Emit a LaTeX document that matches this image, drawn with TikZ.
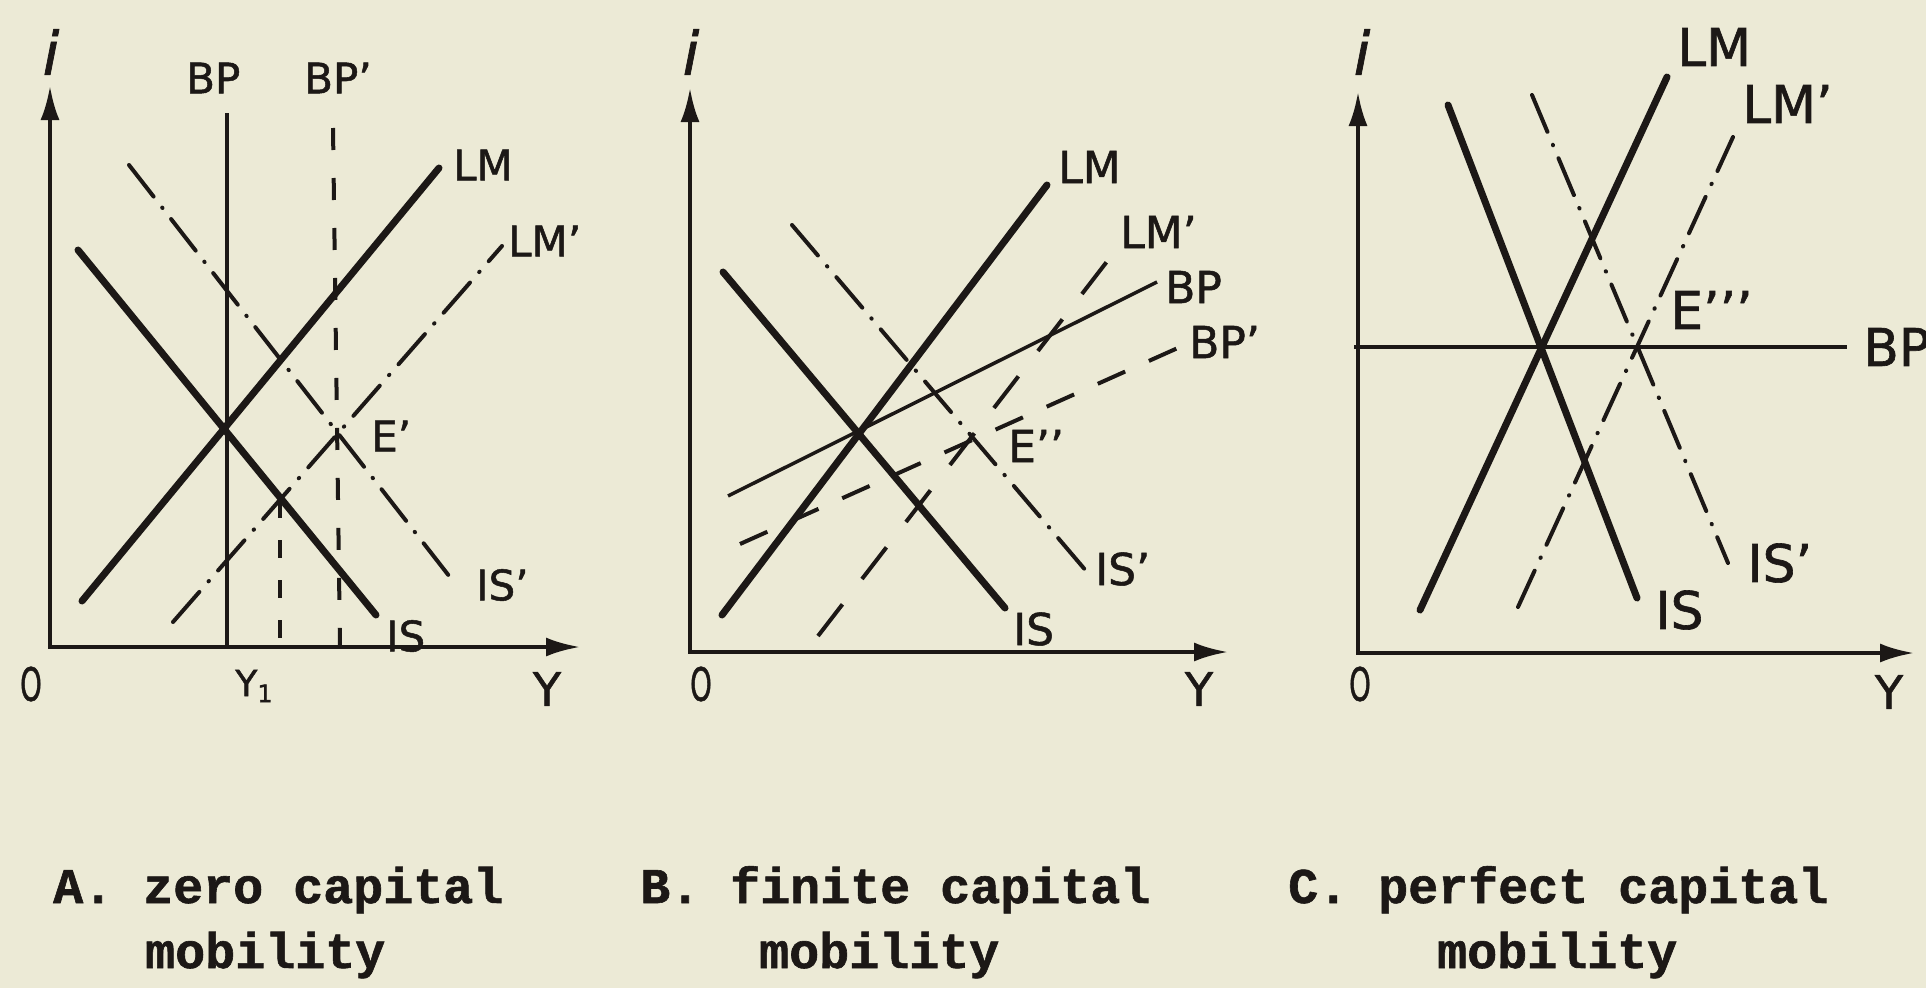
\documentclass[tikz,border=0pt]{standalone}
\usepackage{fontspec}
\setmainfont{DejaVu Sans}[FakeBold=1.2]
\newfontfamily\capfont{Liberation Mono}[BoldFeatures={FakeBold=1.2}]
\usetikzlibrary{arrows.meta}
\definecolor{paper}{RGB}{236,234,214}
\definecolor{ink}{RGB}{28,24,22}
\tikzset{
  axisline/.style={line width=4pt, draw=ink, {Latex[length=34pt,width=19pt]}-{Latex[length=34pt,width=19pt]}},
  thickline/.style={line width=7pt, draw=ink, line cap=round},
  thinline/.style={line width=3.5pt, draw=ink},
  dashdot/.style={line width=4pt, draw=ink, line cap=round, dash pattern=on 40pt off 14pt on 0.5pt off 14pt},
  dashline/.style={line width=4pt, draw=ink, dash pattern=on 22pt off 28pt},
  longdash/.style={line width=4pt, draw=ink, dash pattern=on 40pt off 32pt},
  lblA/.style={font=\fontsize{42}{42}\selectfont, text=ink, inner sep=0pt, anchor=west},
  lblB/.style={font=\fontsize{44}{44}\selectfont, text=ink, inner sep=0pt, anchor=west},
  lblC/.style={font=\fontsize{52}{52}\selectfont, text=ink, inner sep=0pt, anchor=west},
  axlbl/.style={font=\fontsize{46}{46}\selectfont, text=ink, inner sep=0pt},
  ilbl/.style={font=\itshape\fontsize{60}{60}\selectfont, text=ink, inner sep=0pt},
  captxt/.style={font=\capfont\bfseries\fontsize{50}{50}\selectfont, text=ink, anchor=base west, inner sep=0pt},
}
\begin{document}
\begin{tikzpicture}[x=1pt,y=-1pt]
\useasboundingbox (0,0) rectangle (1926,988);
\fill[paper] (0,0) rectangle (1926,988);

% ---------------- Panel A ----------------
\coordinate (Ao) at (50,647);
\coordinate (Ayt) at (50,86);
\coordinate (Axr) at (580,647);
\draw[axisline] (Ayt) -- (Ao) -- (Axr);
\coordinate (Abpt) at (227,113); \coordinate (Abpb) at (227,647);
\draw[thinline] (Abpt) -- (Abpb);
\coordinate (Abpqt) at (333,128); \coordinate (Abpqb) at (340,647);
\draw[dashline] (Abpqt) -- (Abpqb);
\coordinate (Alm1) at (82,601); \coordinate (Alm2) at (439,168);
\draw[thickline] (Alm1) -- (Alm2);
\coordinate (Ais1) at (78,250); \coordinate (Ais2) at (376,615);
\draw[thickline] (Ais1) -- (Ais2);
\coordinate (Aisq1) at (129,165); \coordinate (Aisq2) at (453,581);
\draw[dashdot] (Aisq1) -- (Aisq2);
\coordinate (Almq1) at (173,622); \coordinate (Almq2) at (502,246);
\draw[dashdot] (Almq1) -- (Almq2);
\coordinate (Ay1t) at (280,500); \coordinate (Ay1b) at (280,647);
\draw[line width=3.5pt, draw=ink, dash pattern=on 18pt off 22pt] (Ay1t) -- (Ay1b);
\node[lblA] (AlBP) at (186,78) {BP};
\node[lblA] (AlBPq) at (304,78) {BP’};
\node[lblA] (AlLM) at (453,165) {LM};
\node[lblA] (AlLMq) at (508,241) {LM’};
\node[lblA] (AlE) at (371,436) {E’};
\node[lblA] (AlISq) at (476,585) {IS’};
\node[lblA] (AlIS) at (386,636) {IS};
\node[axlbl] (AlO) at (31,684) {\scalebox{0.6}[1]{O}};
\node[axlbl] (AlY1) at (254,686) {\fontsize{36}{36}\selectfont Y\raisebox{-6pt}{\fontsize{24}{24}\selectfont 1}};
\node[axlbl] (AlY) at (547,689) {Y};
\node[ilbl] (Ali) at (51,52) {i};

% ---------------- Panel B ----------------
\coordinate (Bo) at (690,652);
\coordinate (Byt) at (690,88);
\coordinate (Bxr) at (1228,652);
\draw[axisline] (Byt) -- (Bo) -- (Bxr);
\coordinate (Blm1) at (722,615); \coordinate (Blm2) at (1047,185);
\draw[thickline] (Blm1) -- (Blm2);
\coordinate (Bis1) at (723,272); \coordinate (Bis2) at (1005,608);
\draw[thickline] (Bis1) -- (Bis2);
\coordinate (Bbp1) at (728,496); \coordinate (Bbp2) at (1157,282);
\draw[thinline] (Bbp1) -- (Bbp2);
\coordinate (Bbpq1) at (740,544); \coordinate (Bbpq2) at (1180,347);
\draw[line width=4pt, draw=ink, dash pattern=on 30pt off 26pt] (Bbpq1) -- (Bbpq2);
\coordinate (Blmq1) at (818,636); \coordinate (Blmq2) at (1112,255);
\draw[longdash] (Blmq1) -- (Blmq2);
\coordinate (Bisq1) at (792,225); \coordinate (Bisq2) at (1087,572);
\draw[dashdot] (Bisq1) -- (Bisq2);
\node[lblB] (BlLM) at (1058,167) {LM};
\node[lblB] (BlLMq) at (1120,232) {LM’};
\node[lblB] (BlBP) at (1165,287) {BP};
\node[lblB] (BlBPq) at (1189,342) {BP’};
\node[lblB] (BlE) at (1008,446) {E’’};
\node[lblB] (BlISq) at (1095,569) {IS’};
\node[lblB] (BlIS) at (1013,629) {IS};
\node[axlbl] (BlO) at (701,684) {\scalebox{0.6}[1]{O}};
\node[axlbl] (BlY) at (1199,689) {Y};
\node[ilbl] (Bli) at (691,52) {i};

% ---------------- Panel C ----------------
\coordinate (Co) at (1358,653);
\coordinate (Cyt) at (1358,92);
\coordinate (Cxr) at (1914,653);
\draw[axisline] (Cyt) -- (Co) -- (Cxr);
\coordinate (Cbp1) at (1354,347); \coordinate (Cbp2) at (1847,347);
\draw[thinline] (Cbp1) -- (Cbp2);
\coordinate (Clm1) at (1420,610); \coordinate (Clm2) at (1667,77);
\draw[thickline] (Clm1) -- (Clm2);
\coordinate (Cis1) at (1448,105); \coordinate (Cis2) at (1637,598);
\draw[thickline] (Cis1) -- (Cis2);
\coordinate (Clmq1) at (1518,607); \coordinate (Clmq2) at (1733,137);
\draw[dashdot] (Clmq1) -- (Clmq2);
\coordinate (Cisq1) at (1532,95); \coordinate (Cisq2) at (1728,563);
\draw[dashdot] (Cisq1) -- (Cisq2);
\node[lblC] (ClLM) at (1677,47) {LM};
\node[lblC] (ClLMq) at (1742,104) {LM’};
\node[lblC] (ClE) at (1670,310) {E’’’};
\node[lblC] (ClBP) at (1863,347) {BP};
\node[lblC] (ClISq) at (1747,563) {IS’};
\node[lblC] (ClIS) at (1655,610) {IS};
\node[axlbl] (ClO) at (1360,684) {\scalebox{0.6}[1]{O}};
\node[axlbl] (ClY) at (1889,692) {Y};
\node[ilbl] (Cli) at (1362,52) {i};

% ---------------- Captions ----------------
\node[captxt] (capA1) at (53,903) {A. zero capital};
\node[captxt] (capA2) at (145,968) {mobility};
\node[captxt] (capB1) at (640,903) {B. finite capital};
\node[captxt] (capB2) at (759,968) {mobility};
\node[captxt] (capC1) at (1288,903) {C. perfect capital};
\node[captxt] (capC2) at (1437,968) {mobility};
\end{tikzpicture}
\end{document}
